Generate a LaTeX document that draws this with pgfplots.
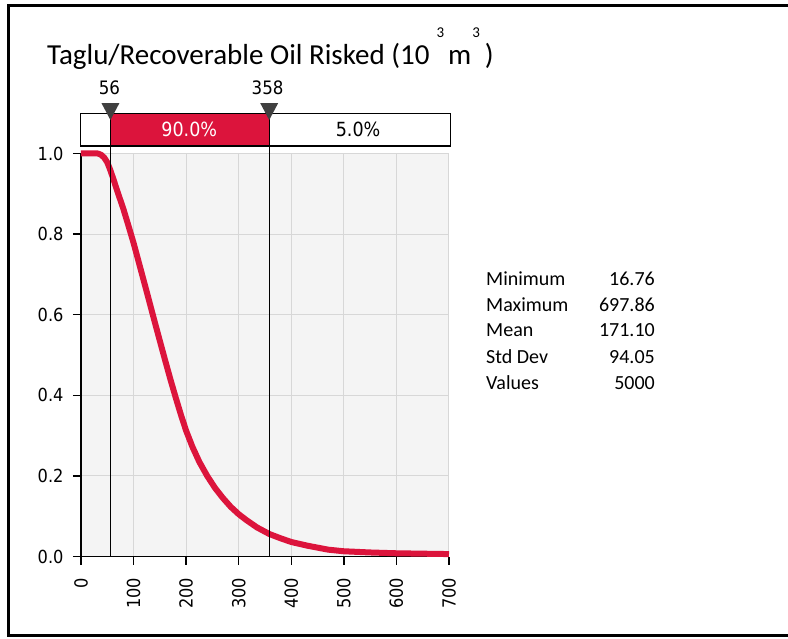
\documentclass[border=0pt]{standalone}
\usepackage{pgfplots}
\pgfplotsset{compat=1.18}
\usepackage{fontspec}
\setmainfont{Carlito}
\newfontfamily\tickfont{DejaVu Sans Condensed}
\definecolor{cred}{RGB}{220,20,60}
\definecolor{bgc}{RGB}{244,244,244}
\definecolor{gridc}{RGB}{215,215,215}
\definecolor{trig}{RGB}{64,64,64}
\begin{document}
\begin{tikzpicture}
\useasboundingbox (-81pt,-81.5pt) rectangle (707pt,556.5pt);
\draw[line width=3pt] (708pt,550.5pt) -- (-72pt,550.5pt) -- (-72pt,-78.5pt) -- (708pt,-78.5pt);
\node[anchor=base west, font=\fontsize{29}{29}\selectfont, inner sep=0pt] at (-34pt,492pt)
  {Taglu/Recoverable Oil Risked (10\hspace{7pt}\raisebox{27pt}{\fontsize{15}{15}\selectfont 3}\hspace{4pt}m\hspace{1pt}\raisebox{27pt}{\fontsize{15}{15}\selectfont 3}\hspace{5pt})};
\begin{axis}[
  at={(0pt,0pt)}, anchor=south west,
  scale only axis, width=368pt, height=403pt,
  xmin=0, xmax=700, ymin=0, ymax=1,
  axis x line=bottom, axis y line=left,
  axis line style={-, line width=1.5pt},
  axis background/.style={fill=bgc},
  clip=false,
  xtick={0,100,...,700}, ytick={0,0.2,0.4,0.6,0.8,1.0},
  grid=major, major grid style={gridc, line width=1pt},
  tick align=outside, major tick length=8pt,
  tick style={black, line width=1.4pt},
  tick label style={font=\tickfont\fontsize{18}{18}\selectfont, /pgf/number format/assume math mode=true},
  yticklabel style={/pgf/number format/.cd, fixed, fixed zerofill, precision=1},
  xticklabel style={rotate=90, anchor=east, /pgf/number format/.cd, 1000 sep={}},
  yticklabel shift=6pt, xticklabel shift=10pt,
]
\addplot[cred, line width=6pt, line join=round] coordinates {
(0,1.0) (32,1.0) (38,0.997) (44,0.99) (50,0.978) (56,0.958) (62,0.935)
(70,0.903) (80,0.865) (90,0.822) (100,0.778) (112,0.72) (125,0.657)
(138,0.593) (150,0.535) (160,0.487) (170,0.44) (180,0.395) (190,0.352)
(200,0.312) (212,0.272) (225,0.235) (240,0.2) (255,0.17) (270,0.145)
(285,0.123) (300,0.105) (315,0.09) (335,0.072) (358,0.056) (380,0.045)
(400,0.036) (430,0.027) (450,0.022) (470,0.017) (500,0.013) (550,0.010)
(600,0.008) (650,0.007) (700,0.006)
};
\fill[white] (axis cs:-1.5,1.0187) rectangle (axis cs:703.5,1.0992);
\fill[cred] (axis cs:56,1.0187) rectangle (axis cs:358,1.0992);
\draw[line width=1.3pt] (axis cs:-1.5,1.0187) rectangle (axis cs:703.5,1.0992);
\draw[line width=1.2pt] (axis cs:56,0) -- (axis cs:56,1.0992);
\draw[line width=1.2pt] (axis cs:358,0) -- (axis cs:358,1.0992);
\fill[trig] (axis cs:56,1.083) -- ++(-9pt,17pt) -- ++(18pt,0pt) -- cycle;
\fill[trig] (axis cs:358,1.083) -- ++(-9pt,17pt) -- ++(18pt,0pt) -- cycle;
\node[font=\tickfont\fontsize{18.5}{18.5}\selectfont, inner sep=0pt] at (axis cs:54,1.162) {56};
\node[font=\tickfont\fontsize{18.5}{18.5}\selectfont, inner sep=0pt] at (axis cs:355,1.162) {358};
\node[font=\tickfont\fontsize{19.5}{19.5}\selectfont, text=white, inner sep=0pt] at (axis cs:206,1.059) {90.0\%};
\node[font=\tickfont\fontsize{19.5}{19.5}\selectfont, inner sep=0pt] at (axis cs:527,1.059) {5.0\%};
\end{axis}
\begin{scope}[font=\fontsize{20}{20}\selectfont]
\node[anchor=west, inner sep=0pt] at (405pt,277.5pt) {Minimum};
\node[anchor=west, inner sep=0pt] at (405pt,251.5pt) {Maximum};
\node[anchor=west, inner sep=0pt] at (405pt,226.5pt) {Mean};
\node[anchor=west, inner sep=0pt] at (405pt,199.5pt) {Std Dev};
\node[anchor=west, inner sep=0pt] at (405pt,173.5pt) {Values};
\node[anchor=east, inner sep=0pt] at (574pt,277.5pt) {16.76};
\node[anchor=east, inner sep=0pt] at (574pt,251.5pt) {697.86};
\node[anchor=east, inner sep=0pt] at (574pt,226.5pt) {171.10};
\node[anchor=east, inner sep=0pt] at (574pt,199.5pt) {94.05};
\node[anchor=east, inner sep=0pt] at (574pt,173.5pt) {5000};
\end{scope}
\end{tikzpicture}
\end{document}
